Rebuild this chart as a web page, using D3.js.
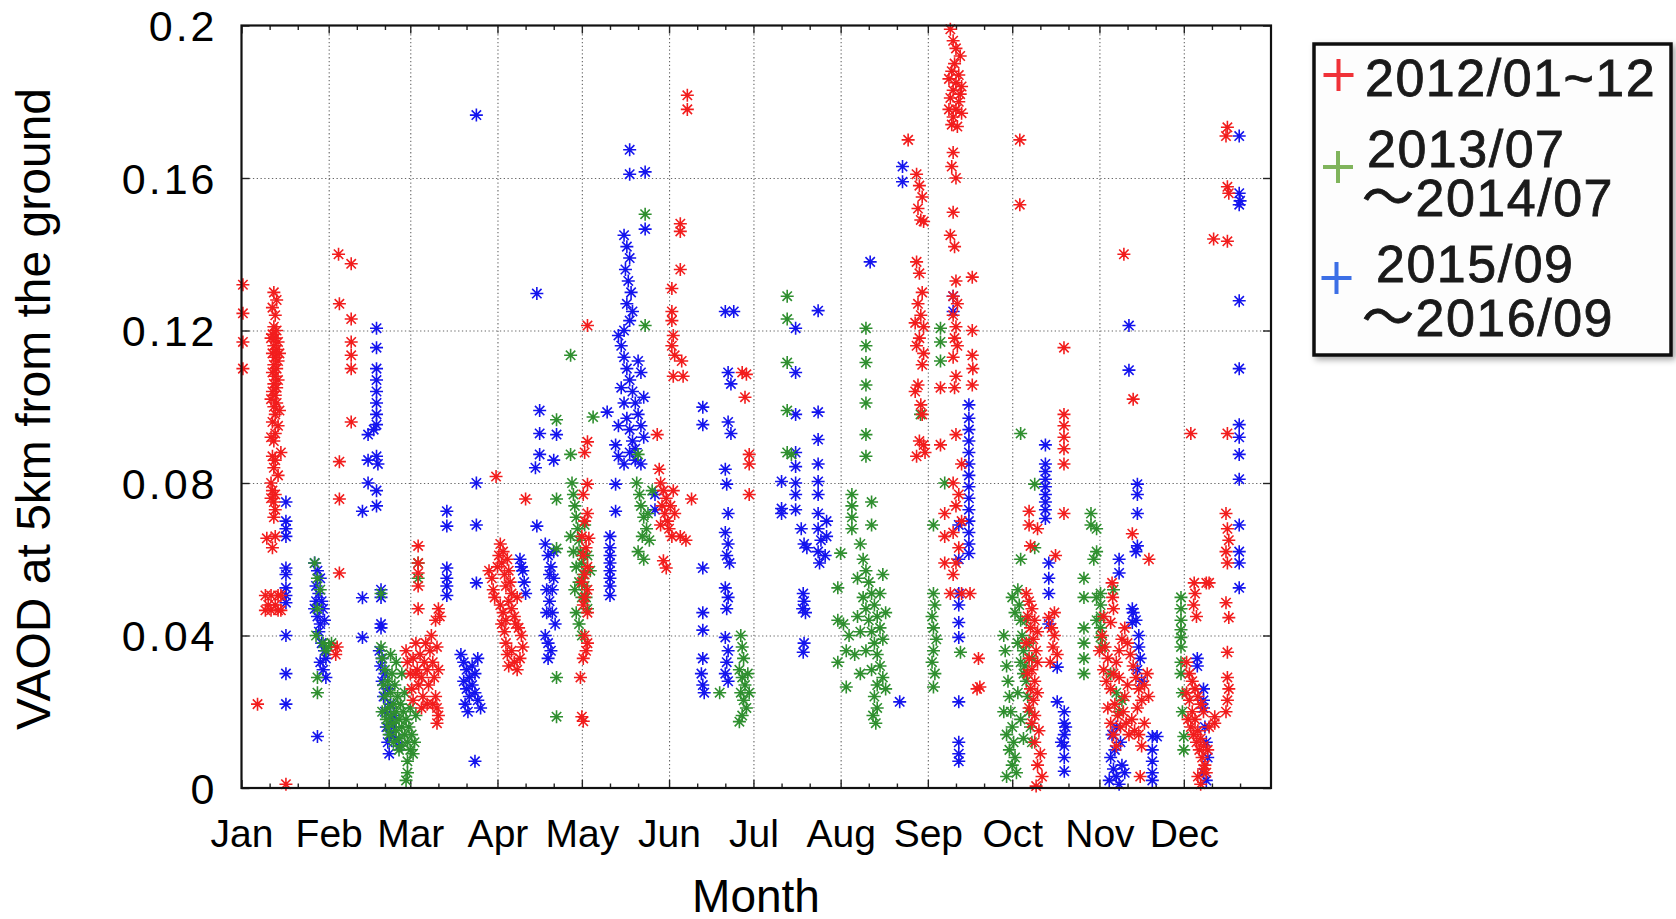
<!DOCTYPE html>
<html>
<head>
<meta charset="utf-8">
<script src="https://cdn.jsdelivr.net/npm/d3@7/dist/d3.min.js"></script>
<style>
  body { margin: 0; background: #fff; }
  text { font-family: "Liberation Sans", Arial, "Noto Sans CJK JP", sans-serif; }
</style>
</head>
<body>
<div id="chart"></div>
<script>
// ---- data (day of year counted from Jan 1, VAOD) ----
var monthNames = ["Jan", "Feb", "Mar", "Apr", "May", "Jun", "Jul", "Aug", "Sep", "Oct", "Nov", "Dec"];
var monthStarts = [0, 31, 60, 91, 121, 152, 182, 213, 244, 274, 305, 335];
var yTicks = [0, 0.04, 0.08, 0.12, 0.16, 0.2];
var yTickLabels = ["0", "0.04", "0.08", "0.12", "0.16", "0.2"];
var legendLabels = [["2012/01~12"], ["2013/07", "\u301C2014/07"], ["2015/09", "\u301C2016/09"]];

var red2012 = [
  [0.5,.132],[0.5,.1245],[0.5,.117],[0.5,.110],
  [11.5,.130],[12.5,.128],[11,.126],[12,.124],[11.5,.121],[12.5,.120],[11,.119],[12,.118],[13,.117],[11.5,.116],
  [12.5,.115],[11,.114],[12,.113],[13,.112],[11.5,.111],[12.5,.110],[11,.109],[12,.108],[13,.107],[11.5,.106],
  [12.5,.105],[11,.104],[12,.103],[12.5,.101],[11.5,.100],[12,.098],[11,.096],[13,.095],[12,.093],[11.5,.091],
  [14,.088],[11,.087],[12,.086],[11.5,.084],[10.5,.080],[11,.078],[12,.077],[11.5,.075],[12,.073],[11.5,.071],
  [10.5,.118],[13.5,.114],[10.5,.102],[13.5,.099],[10.5,.092],[13,.082],[10.5,.076],
  [9,.0655],[11,.063],[12,.066],
  [8.5,.0505],[10.5,.0505],[13,.0505],[14,.0505],[8.5,.0466],[10.5,.0466],[13,.0466],[14,.0466],[9.5,.048],[12,.048],
  [5.7,.022],[15.8,.001],
  [34.5,.140],[39,.1375],[34.8,.127],[39,.123],[39,.117],[39,.1135],[39,.110],[39,.096],[34.8,.0856],[34.8,.0758],
  [34.8,.0564],[33.5,.035],[34,.037],
  [62.8,.0635],[62.8,.059],[62.8,.0564],[62.8,.053],[62.8,.047],
  [58.5,.036],[59,.033],[60,.030],[60.5,.026],[61,.034],[62,.038],[62.5,.031],[63,.027],[63.5,.035],[64,.029],
  [64.5,.024],[65,.033],[65.5,.038],[66,.031],[66.5,.027],[67,.036],[67.5,.040],[68,.033],[68.5,.029],[69,.044],
  [69.5,.037],[70,.031],[70,.047],[70.5,.045],[69,.024],[69.5,.021],[70,.019],[69.5,.017],[68,.022],[66,.022],
  [64,.021],[62,.030],[61,.023],
  [90.5,.0817],[88,.057],[89,.055],[89.5,.052],[90,.050],[91,.058],[91.5,.061],[92,.064],[92.5,.059],[93,.062],
  [93.5,.056],[94,.053],[94.5,.060],[95,.057],[95.5,.054],[96,.051],[92,.048],[93,.046],[94,.044],[95,.049],
  [96,.047],[97,.045],[97.5,.043],[98,.050],[93.5,.041],[94,.038],[94.5,.035],[95,.032],[96,.036],[97,.033],
  [98,.031],[99,.034],[100,.037],[99.5,.040],[98.5,.042],[92.5,.043],[101,.0758],
  [123,.1213],[123,.0908],[122,.088],[123,.0797],[121.5,.077],[123,.072],[122,.070],[123.5,.0655],[121,.066],
  [122.5,.063],[121.5,.061],[123,.058],[122,.056],[121,.054],[123,.052],[122,.050],[121.5,.048],[123,.046],
  [122,.040],[123,.038],[122.5,.036],[121.5,.034],[120.5,.029],[121,.0187],[121.5,.0175],
  [147.8,.0927],[148.5,.0836],[149,.080],[150,.078],[151,.076],[149.5,.074],[150.5,.072],[151.5,.070],[152,.068],
  [153,.066],[152.5,.074],[153.5,.078],[150,.0596],[151,.0577],[149,.069],[154,.072],
  [153,.131],[153,.125],[153,.1226],[153.5,.1187],[153,.116],[154,.1135],[153.5,.108],[156,.148],[156,.146],
  [156,.136],[156.5,.112],[157,.108],[158.5,.1817],[158.5,.178],[156,.066],[158,.065],[160,.0758],
  [178,.109],[179.5,.1085],[179,.1025],[180.5,.0875],[180.5,.085],[180.5,.077],
  [237,.170],[240,.161],[241,.158],[242,.155],[240.5,.152],[241.5,.149],[242.5,.1486],[240,.138],[241,.135],
  [242,.130],[240.5,.127],[241.5,.124],[242.5,.121],[241,.118],[242,.111],[240.5,.1057],[241.5,.1005],[242,.098],
  [241,.091],[240,.087],[242.5,.090],[243,.088],[239.5,.122],[240,.116],[242.5,.114],[239.5,.104],
  [252,.199],[253,.196],[254,.194],[253.5,.190],[252.5,.188],[255,.187],[254,.185],[256,.184],[253,.183],[252,.181],
  [255,.180],[254,.178],[256,.177],[253,.176],[252.5,.174],[254.5,.1735],[253,.1667],[252.5,.163],[254,.160],
  [253,.151],[252,.145],[253.5,.142],[254,.133],[253,.129],[254.5,.127],[253,.124],[254,.121],[253.5,.118],
  [254.5,.116],[253,.113],[254,.108],[253.5,.105],[254,.0927],[256,.085],[253,.080],[255,.077],[254,.074],
  [256,.070],[253,.067],[255,.063],[254,.059],[253,.056],[248.5,.105],[248.5,.090],[259.8,.134],[259.8,.120],
  [259.8,.1135],[260,.110],[259.8,.1057],[250,.072],[250,.066],[250,.059],[252,.051],[256,.051],[259,.051],
  [262,.034],[261.5,.026],[262.5,.0265],[255.5,.192],[251.5,.186],[255.5,.182],[251.5,.178],
  [276.7,.170],[276.7,.153],[280,.0726],[280,.069],[280.5,.0635],[283,.068],
  [279,.051],[280,.049],[281,.047],[279.5,.045],[282,.044],[280.5,.042],[283,.041],[281.5,.039],[279,.038],
  [282.5,.036],[280,.034],[283,.033],[281,.031],[279.5,.030],[282,.028],[280.5,.026],[283,.025],[281.5,.023],
  [280,.021],[282,.019],[281,.017],[283.5,.015],[282,.012],[284,.009],[283,.006],[284.6,.003],[282.5,.0005],
  [287,.0447],[288,.042],[289,.040],[288.5,.037],[290,.035],[287.5,.033],[289,.046],[289.4,.061],
  [292.4,.1155],[292.4,.098],[292.4,.095],[292.4,.092],[292.4,.089],[292.4,.085],[292.4,.072],
  [313.7,.140],[317,.102],[316.7,.0667],[322.6,.060],[309.5,.0538],[309.7,.050],[310,.047],[309,.0434],
  [306,.040],[307,.037],[308,.034],[306.5,.031],[307.5,.028],[309,.026],[310,.030],[311,.033],[312,.036],
  [313,.039],[314,.042],[315,.038],[316,.035],[317,.032],[318,.029],[319,.026],[320,.023],[321,.027],[322,.030],
  [322.5,.024],[310.5,.022],[311.5,.019],[312.5,.016],[313.5,.020],[314.5,.017],[315.5,.014],[316.5,.018],
  [317.5,.015],[318.5,.021],[314,.024],[315,.027],[312,.029],[308,.021],[309,.017],[310,.014],[311,.011],
  [319,.014],[320,.011],[321,.017],[305,.036],[306.5,.045],[319.5,.003],
  [337.5,.093],[338.7,.0538],[339,.051],[338.5,.048],[339.5,.045],[344,.0538],[343,.0538],
  [336,.033],[337,.030],[338,.028],[339,.026],[340,.024],[341,.022],[342,.020],[336.5,.018],[337.5,.016],
  [338.5,.014],[339.5,.012],[340.5,.010],[341.5,.008],[342.5,.006],[343,.004],[340,.015],[341,.013],[342,.011],
  [339,.018],[338,.020],[337,.023],[336,.025],[340,.003],[341,.001],[342,.005],[343.5,.010],[344,.016],[346,.017],
  [345.6,.144],[350.5,.1434],[350.5,.1733],[350,.171],[350.5,.1577],[351,.156],[350.5,.093],[350,.072],
  [350.5,.068],[351,.065],[350,.062],[350.5,.059],[350,.0486],[351,.0447],[350.5,.0356],[350.5,.029],
  [351,.026],[350.5,.023],[350,.020],[346,.0187]
];

var green2013 = [
  [26,.059],[27,.055],[28,.052],[27,.047],[26.5,.040],[29,.038],[30,.036],[27,.029],[27,.025],[32,.038],[31,.037],
  [49.6,.051],[49.6,.037],[50,.034],[51,.031],[52,.028],[53,.025],[54,.022],[55,.020],[56,.018],[57,.016],
  [58,.014],[59,.012],[60,.010],[51,.024],[52,.021],[53,.019],[54,.017],[55,.015],[56,.013],[57,.011],
  [50.5,.027],[51.5,.018],[52.5,.014],[53.5,.030],[54.5,.027],[55.5,.024],[56.5,.022],[57.5,.020],[58.5,.018],
  [59.5,.016],[60.5,.014],[61.5,.012],[58,.025],[60,.021],[62,.019],[61,.009],[59,.007],[50,.020],[53,.035],
  [55,.033],[57,.030],[52,.016],[54,.012],[56,.010],[58.5,.002],[59,.004],[62.8,.059],[62.8,.055],
  [117,.1135],[117,.0875],[112,.0966],[112,.0758],[112,.0628],[112,.029],[112,.0187],
  [117.5,.080],[118,.077],[118.5,.074],[119,.071],[119.5,.068],[120,.065],[120.5,.062],[121,.059],[121.5,.056],
  [122,.053],[122.5,.050],[123,.047],[118,.062],[119,.058],[120,.054],[121,.050],[119,.046],[120,.043],[121,.040],
  [118.5,.052],[117,.066],[122,.069],[123,.061],[124,.057],[125,.0973],
  [143.5,.1505],[143.5,.1213],[141,.0875],[140.5,.080],[141.5,.077],[142,.074],[143,.071],[144,.068],[145,.065],
  [142.5,.066],[141,.062],[143,.060],[144.5,.072],[146,.078],
  [177.5,.040],[178,.037],[178.5,.034],[177,.031],[178,.029],[179,.027],[177.5,.025],[178.5,.023],[179.5,.021],
  [178,.019],[177,.0174],[180,.030],[180.5,.025],[170,.025],
  [194,.129],[194,.123],[194,.1116],[194,.099],[194,.088],[195.5,.0875],
  [217,.077],[217,.074],[217,.071],[217,.068],[213,.0616],[212,.0525],[212,.044],[212,.033],[215,.0265],
  [222,.1206],[222,.116],[222,.1116],[222,.1057],[222,.101],[222,.0927],[222,.087],[224,.075],[224,.069],
  [220,.064],[221,.060],[222,.057],[223,.054],[224,.051],[225,.048],[226,.045],[227,.042],[228,.039],[221,.050],
  [222,.047],[223,.044],[224,.041],[225,.038],[226,.035],[227,.032],[228,.029],[229,.026],[220,.041],[222,.036],
  [224,.031],[226,.027],[225,.024],[226,.021],[224.5,.019],[225.5,.017],[228,.056],[227,.051],[229,.046],
  [219,.055],[219,.045],[216,.040],[218,.035],[220,.030],[214,.043],[215,.036],
  [246,.069],[246,.051],[246.5,.048],[245.5,.045],[246,.042],[247,.039],[246,.036],[245.5,.033],[246.5,.030],
  [246,.0265],[248.5,.1206],[248.5,.117],[248.5,.112],[241.4,.098],[255.6,.0356],[250,.080],
  [277,.093],[282,.0797],[282,.063],[277,.060],
  [271,.040],[271.5,.036],[272,.032],[272.5,.028],[273,.024],[273.5,.020],[274,.016],[274.5,.012],[275,.008],
  [275.5,.004],[271,.020],[272,.014],[273,.010],[274,.006],[276,.052],[276.5,.048],[277,.044],[277.5,.040],
  [278,.036],[278.5,.032],[279,.028],[279.5,.024],[280,.020],[280.5,.016],[281,.012],[276,.038],[277,.033],
  [278,.030],[279,.044],[280,.038],[281,.034],[275,.046],[274,.050],[276,.025],[277,.018],[278,.013],[272,.003],
  [299.5,.055],[299.5,.050],[299.5,.042],[299.5,.038],[299.5,.034],[299.5,.030],[302,.072],[304,.068],[304,.062],
  [304,.050],[304,.044],[302,.069],[303,.060],[305.4,.051],[305.4,.048],[305.4,.045],[305.4,.042],[305.4,.0395],
  [306,.037],[310,.052],[309,.030],[311,.025],[312,.020],[313,.023],
  [334,.050],[334,.047],[334,.044],[334,.0415],[334,.0395],[334,.037],[334,.033],[334,.030],[334.5,.025],
  [334.5,.020],[335,.0135],[335,.010]
];

var blue2015 = [
  [15.8,.075],[15.8,.070],[15.8,.068],[15.8,.066],[15.8,.0577],[15.8,.056],[15.8,.0525],[15.8,.0505],[15.8,.0486],
  [15.8,.040],[15.8,.030],[15.8,.022],
  [26,.059],[27,.057],[28,.055],[26.5,.053],[27.5,.051],[28.5,.049],[26,.047],[27,.045],[28,.043],[29,.047],
  [29.5,.044],[27.5,.041],[28.5,.038],[29.5,.036],[30,.034],[28,.033],[29,.031],[30,.029],[26.5,.049],[27,.0135],
  [43,.0499],[43,.0395],[43,.0726],[45,.0927],[45,.086],[45,.080],
  [48,.1206],[48,.1155],[48,.110],[48,.107],[48,.104],[48,.101],[48,.098],[48,.0953],[47,.094],[48,.087],
  [48.5,.085],[48,.078],[48,.074],[49.6,.052],[49.6,.050],[49.6,.043],[49.6,.042],
  [49,.036],[49.5,.032],[50,.028],[50.5,.024],[51,.020],[51.5,.016],[52,.012],[52.5,.009],[53,.014],[53.5,.018],
  [50,.034],[51,.030],[52,.026],[53,.022],[54,.019],[55,.013],[56,.011],[54,.016],
  [73,.0726],[73,.0687],[73,.0577],[73,.055],[73,.053],[73,.0505],
  [83.5,.1765],[83.5,.080],[83.5,.069],[83.5,.0538],
  [78,.035],[79,.033],[80,.031],[81,.029],[82,.027],[83,.025],[84,.023],[85,.021],[79,.028],[80,.026],[81,.024],
  [82,.032],[83,.030],[84,.034],[79.5,.022],[80.5,.020],[83,.007],
  [105,.1297],[106,.099],[106,.093],[106,.0875],[104.5,.084],[112,.0927],[105,.0687],[111,.086],
  [99,.060],[100,.057],[100.5,.054],[101,.051],[99.5,.058],
  [108,.064],[109,.061],[110,.058],[111,.055],[108.5,.052],[109.5,.049],[110.5,.046],[111.5,.043],[108,.040],
  [109,.038],[110,.036],[109.5,.056],[110.5,.052],[108.5,.046],[111,.062],[109,.034],
  [130,.0986],[133,.0797],[133,.0726],
  [131,.066],[131,.063],[131,.061],[131,.059],[131,.057],[131,.055],[131,.053],[131,.0505],
  [138,.1674],[143.5,.1616],[138,.161],[143.5,.1466],
  [136,.145],[137,.142],[138,.139],[136.5,.136],[137.5,.133],[138.5,.130],[137,.127],[138,.1226],[139,.125],
  [136,.120],[134,.1187],[135,.116],[136,.113],[137,.110],[138,.107],[139,.104],[140,.101],[141,.098],[142,.095],
  [143,.092],[135,.105],[136,.101],[137,.097],[138,.094],[139,.091],[140,.089],[141,.112],[142,.109],[143,.1025],
  [134,.095],[133,.090],[134,.087],[136,.085],[138,.088],[140,.086],[142,.085],[147,.077],[147,.073],
  [164,.0999],[164,.0953],[164,.0577],[164,.046],[164,.0414],[164,.034],[163.5,.030],[164,.027],[164.5,.025],
  [172,.125],[175,.125],[173,.109],[174,.106],[173,.096],[174,.093],[172,.0836],[172.5,.0797],[173,.072],
  [172,.067],[173,.064],[172.5,.061],[173.5,.059],[172,.0525],[173,.050],[172.5,.047],[172,.0395],[173,.036],
  [172.5,.033],[172,.030],[173,.028],
  [197,.1206],[197,.109],[197,.098],[197,.088],[197,.0843],[197,.080],[197,.077],[197,.073],
  [192,.0804],[192,.0733],[192,.072],
  [205,.1252],[205,.0986],[205,.0914],[205,.085],[205,.0804],[205,.077],[205,.072],[205,.068],[206,.065],
  [205,.062],[205.5,.059],[208,.070],[208,.066],[207.5,.061],[199,.068],[200,.064],[201,.063],
  [199.7,.051],[200,.049],[199.5,.047],[200.5,.046],[200,.038],[199.7,.0356],
  [223.5,.138],[234,.0226],
  [235,.163],[235,.159],[253,.129],[253,.125],
  [258.6,.1005],[258.6,.097],[258.6,.094],[258.6,.091],[258.6,.088],[258.6,.085],[258.6,.082],[258.6,.079],
  [258.6,.076],[258.6,.073],[258.6,.070],[258.6,.067],[258.6,.064],[258.6,.0615],
  [255,.069],[255,.060],[255,.051],[255,.048],[255,.0434],[255,.0395],[255,.0226],[255,.012],[255,.009],[255,.007],
  [285.8,.090],[285.8,.085],[285.8,.083],[285.8,.081],[285.8,.079],[285.8,.077],[285.8,.075],[285.8,.073],
  [285.8,.0707],[287,.059],[287,.055],[287,.051],[287,.043],[290,.0317],[290,.0226],
  [292.5,.020],[292.5,.017],[292.5,.014],[292.5,.011],[292.5,.008],[292.5,.0044],[291.5,.012],[293,.016],
  [315.5,.1213],[315.5,.1096],[318.5,.0797],[318.5,.077],[318.5,.072],[318.5,.0635],[318,.062],
  [312,.060],[312,.0564],[316.7,.047],[316.7,.0434],[317,.046],[318,.044],
  [319,.040],[319,.037],[319.5,.034],[318.5,.031],[320,.028],[311,.016],
  [309,.008],[310,.005],[311,.003],[312,.001],[313,.006],[314,.004],[310.5,.010],[312.5,.012],[309.5,.014],[308.5,.002],
  [323.8,.0135],[323.8,.010],[323.8,.007],[323.8,.004],[323.8,.002],[325.5,.0135],
  [339.8,.034],[339.8,.032],[342,.026],[342,.023],[342,.021],[342.5,.016],[343,.012],[343.5,.008],[342,.004],[343,.002],
  [354.7,.171],[354.7,.156],[355,.154],[354.7,.153],[354.7,.1278],[354.7,.110],[354.7,.0953],[354.7,.092],
  [354.7,.0875],[354.7,.081],[354.7,.069],[354.7,.062],[354.7,.059],[354.7,.0525]
];

// ---- layout ----
var W = 1676, H = 919;
var plotL = 241.5, plotR = 1271, plotT = 25.5, plotB = 788;

var svg = d3.select("#chart").append("svg").attr("width", W).attr("height", H)
    .style("background", "#fff");

var x = d3.scaleLinear().domain([0, 366]).range([plotL, plotR]);
var y = d3.scaleLinear().domain([0, 0.2]).range([plotB, plotT]);

// grid (dotted)
var grid = svg.append("g").attr("class", "grid");
grid.append("g").attr("transform", "translate(0," + plotB + ")")
    .call(d3.axisBottom(x).tickValues(monthStarts.slice(1)).tickSize(-(plotB - plotT)).tickFormat(""));
grid.append("g").attr("transform", "translate(" + plotL + ",0)")
    .call(d3.axisLeft(y).tickValues(yTicks.slice(1, 5)).tickSize(-(plotR - plotL)).tickFormat(""));
grid.selectAll(".domain").remove();
grid.selectAll("line").attr("stroke", "#666").attr("stroke-width", 1.1).attr("stroke-dasharray", "1.3,2.5");

// minor x ticks: 10th and 20th day after each month start
var minorDays = [];
monthStarts.forEach(function(d) { minorDays.push(d + 10, d + 20); });

function inwardTicks(axis, pos, vals, size) {
  var g = svg.append("g").attr("transform", pos).call(axis.tickValues(vals).tickSize(-size).tickFormat(""));
  g.select(".domain").remove();
  g.selectAll("line").attr("stroke", "#222").attr("stroke-width", 1.4);
  return g;
}
inwardTicks(d3.axisBottom(x), "translate(0," + plotB + ")", monthStarts, 8);
inwardTicks(d3.axisBottom(x), "translate(0," + plotB + ")", minorDays, 4.5);
inwardTicks(d3.axisTop(x), "translate(0," + plotT + ")", monthStarts, 8);
inwardTicks(d3.axisTop(x), "translate(0," + plotT + ")", minorDays, 4.5);
inwardTicks(d3.axisLeft(y), "translate(" + plotL + ",0)", yTicks, 8);
inwardTicks(d3.axisRight(y), "translate(" + plotR + ",0)", yTicks, 8);

// tick labels
var xLab = svg.append("g").attr("transform", "translate(0," + plotB + ")")
    .call(d3.axisBottom(x).tickValues(monthStarts).tickSize(0).tickPadding(31)
      .tickFormat(function(d, i) { return monthNames[i]; }));
xLab.select(".domain").remove();
xLab.selectAll("text").attr("font-size", 39).attr("fill", "#000")
    .style("font-family", "'Liberation Sans', Arial, sans-serif");

var yLab = svg.append("g").attr("transform", "translate(" + plotL + ",0)")
    .call(d3.axisLeft(y).tickValues(yTicks).tickSize(0).tickPadding(24)
      .tickFormat(function(d, i) { return yTickLabels[i]; }));
yLab.select(".domain").remove();
yLab.selectAll("text").attr("font-size", 43).attr("fill", "#000").attr("letter-spacing", 3)
    .attr("dy", "0.36em").style("font-family", "'Liberation Sans', Arial, sans-serif");

// data markers (gnuplot style asterisk)
var star = "M-6.5,0H6.5M0,-6.5V6.5M-4.7,-4.7L4.7,4.7M-4.7,4.7L4.7,-4.7";
var series = [
  { data: blue2015, color: "#1414ee" },
  { data: green2013, color: "#2f8f2f" },
  { data: red2012, color: "#f21d1d" }
];
var plot = svg.append("g");
series.forEach(function(s) {
  plot.append("g").selectAll("path").data(s.data).enter().append("path")
      .attr("d", star)
      .attr("transform", function(d) { return "translate(" + x(d[0]) + "," + y(d[1]) + ")"; })
      .attr("fill", "none").attr("stroke", s.color).attr("stroke-width", 1.6);
});

// frame
svg.append("rect").attr("x", plotL).attr("y", plotT).attr("width", plotR - plotL).attr("height", plotB - plotT)
    .attr("fill", "none").attr("stroke", "#111").attr("stroke-width", 2.2);

// axis titles
svg.append("text").attr("x", 756).attr("y", 912).attr("text-anchor", "middle")
    .attr("font-size", 46).attr("fill", "#000").text("Month");
svg.append("text").attr("transform", "translate(50,409) rotate(-90)").attr("text-anchor", "middle")
    .attr("font-size", 48).attr("fill", "#000").text("VAOD at 5km from the ground");

// legend
var defs = svg.append("defs");
var f = defs.append("filter").attr("id", "shadow").attr("x", "-5%").attr("y", "-5%").attr("width", "115%").attr("height", "115%");
f.append("feDropShadow").attr("dx", 3).attr("dy", 3).attr("stdDeviation", 3).attr("flood-color", "#000").attr("flood-opacity", 0.35);

var lg = svg.append("g");
lg.append("rect").attr("x", 1314).attr("y", 44).attr("width", 357).attr("height", 311)
    .attr("fill", "#fdfdfd").attr("stroke", "#111").attr("stroke-width", 3.5).attr("filter", "url(#shadow)");

var legendColors = ["#f03238", "#80b45c", "#3c6fe6"];
var legendPlus = [[1338.5, 75], [1338, 167], [1336.5, 278]];
var legendLines = [[[1365, 96]], [[1367, 167], [1362, 216]], [[1376, 282], [1362, 336]]];
legendLabels.forEach(function(lines, i) {
  lg.append("path").attr("d", "M-15,0H15M0,-16V16")
      .attr("transform", "translate(" + legendPlus[i][0] + "," + legendPlus[i][1] + ")")
      .attr("stroke", legendColors[i]).attr("stroke-width", 4).attr("fill", "none");
  lines.forEach(function(t, j) {
    lg.append("text").attr("x", legendLines[i][j][0]).attr("y", legendLines[i][j][1])
        .attr("font-size", 52).attr("letter-spacing", 1.5).attr("fill", "#1a1a1a")
        .attr("stroke", "#1a1a1a").attr("stroke-width", 0.8).text(t);
  });
});
</script>
</body>
</html>
